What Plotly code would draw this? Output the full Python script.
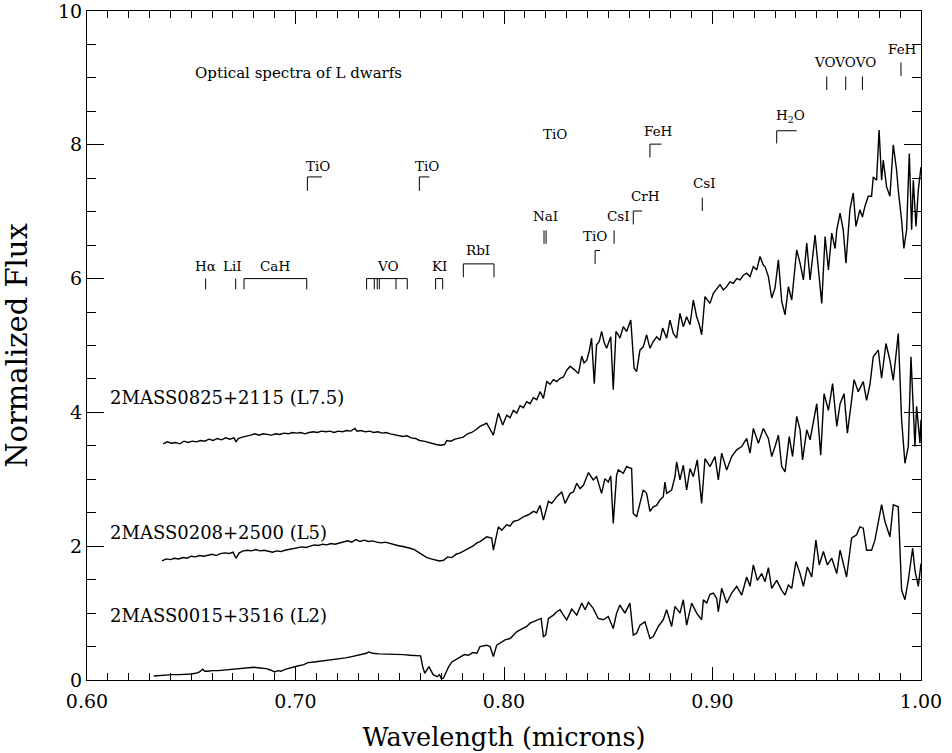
import plotly.graph_objects as go

# ---------------- data: 2MASS0825+2115 (L7.5) ----------------
l75_wave = [
 0.6365,0.6385,0.6405,0.6425,0.6445,0.6465,0.6485,0.6505,0.6525,0.6545,0.6565,0.6585,0.6605,0.6625,0.6645,
 0.6665,0.6685,0.6705,0.6715,0.6725,0.6745,0.6765,0.6785,0.6805,0.6825,0.6845,0.6865,0.6885,0.6905,0.6925,
 0.6945,0.6965,0.6985,0.7005,0.7025,0.7045,0.7065,0.7085,0.7105,0.7125,0.7145,0.7165,0.7185,0.7205,0.7225,
 0.7245,0.7265,0.7285,0.7295,0.7315,0.7335,0.7355,0.7375,0.7395,0.7415,0.7435,0.7455,0.7475,0.7495,0.7515,
 0.7535,0.7555,0.7575,0.7595,0.7615,0.7635,0.7655,0.7675,0.7695,0.7715,0.7725,0.7745,0.7765,0.7785,0.7805,
 0.7825,0.7845,0.7865,0.7885,
 0.7917,0.7949,0.7973,0.7994,0.8013,0.8029,0.8045,0.8061,0.8077,0.8093,0.8109,0.8125,0.8141,0.8157,0.8173,
 0.8189,0.8205,0.8221,0.8237,0.8253,0.8269,0.8285,0.8301,0.8317,0.8337,0.8357,0.8373,0.8384,0.8397,0.8409,
 0.8420,0.8433,0.8444,0.8457,0.8468,0.8480,0.8492,0.8512,0.8524,0.8537,0.8548,0.8556,0.8572,0.8588,0.8608,
 0.8624,0.8636,0.8652,0.8668,0.8684,0.8700,0.8716,0.8732,0.8748,0.8761,0.8780,0.8796,0.8812,0.8828,0.8844,
 0.8860,0.8876,0.8892,0.8908,0.8924,0.8937,0.8948,0.8964,0.8988,0.9004,
 0.9036,0.9052,0.9068,0.9084,0.9100,0.9116,0.9132,0.9148,0.9164,0.9180,0.9196,0.9212,0.9228,0.9244,0.9252,
 0.9268,0.9284,0.9300,0.9316,0.9332,0.9348,0.9364,0.9380,0.9404,0.9420,0.9436,0.9452,0.9468,0.9492,0.9508,
 0.9524,0.9540,0.9556,0.9572,0.9588,0.9596,0.9612,0.9627,0.9640,0.9659,0.9675,0.9688,0.9707,0.9719,0.9731,
 0.9747,0.9763,0.9771,0.9787,0.9799,0.9811,0.9819,0.9835,0.9851,0.9867,0.9883,0.9891,0.9907,0.9918,0.9931,
 0.9944,0.9955,0.9963,0.9976,0.9987,1.0000]
l75_flux = [
 3.53,3.56,3.54,3.55,3.53,3.57,3.55,3.57,3.56,3.58,3.57,3.60,3.58,3.61,3.59,
 3.62,3.60,3.62,3.56,3.61,3.63,3.64,3.66,3.68,3.66,3.68,3.67,3.66,3.68,3.67,
 3.69,3.68,3.70,3.69,3.70,3.68,3.70,3.71,3.70,3.72,3.71,3.72,3.70,3.72,3.71,
 3.73,3.72,3.76,3.72,3.73,3.71,3.72,3.70,3.71,3.69,3.70,3.68,3.67,3.66,3.64,
 3.65,3.62,3.61,3.58,3.57,3.55,3.54,3.52,3.51,3.52,3.58,3.57,3.60,3.62,3.63,
 3.68,3.70,3.74,3.79,
 3.84,3.66,3.99,3.81,3.96,3.92,4.03,3.99,4.10,4.07,4.16,4.13,4.22,4.19,4.31,
 4.21,4.46,4.42,4.49,4.46,4.51,4.53,4.63,4.69,4.64,4.58,4.84,4.74,4.78,4.92,
 5.11,4.43,5.01,5.06,5.21,5.05,4.96,5.13,4.34,5.21,5.16,5.11,5.28,5.21,5.38,
 4.66,4.61,4.93,4.98,5.16,4.96,5.06,5.13,5.08,5.26,5.11,5.38,5.18,5.11,5.48,
 5.28,5.43,5.31,5.68,5.43,5.31,5.16,5.73,5.63,5.78,
 5.91,5.83,5.88,5.95,5.93,6.00,5.98,6.05,6.08,6.03,6.18,6.13,6.33,6.20,6.18,
 6.03,5.71,5.86,6.28,5.66,5.46,5.88,5.68,6.43,6.23,5.98,6.53,5.98,6.65,6.18,
 5.63,6.63,6.13,6.68,6.45,6.73,6.98,6.73,6.23,7.03,7.28,6.78,7.03,6.92,7.08,
 7.23,7.23,7.52,7.47,8.22,7.47,7.77,7.37,7.23,8.00,7.62,7.32,6.87,6.45,6.73,
 7.87,6.73,7.47,6.78,7.32,7.67]

# ---------------- data: 2MASS0208+2500 (L5) ----------------
l5_wave = [
 0.6360,0.6380,0.6400,0.6420,0.6440,0.6460,0.6480,0.6500,0.6520,0.6540,0.6560,0.6580,0.6600,0.6620,0.6640,
 0.6660,0.6680,0.6700,0.6715,0.6730,0.6750,0.6770,0.6790,0.6810,0.6830,0.6850,0.6870,0.6890,0.6910,0.6930,
 0.6950,0.6970,0.6990,0.7010,0.7030,0.7050,0.7070,0.7090,0.7110,0.7130,0.7150,0.7170,0.7190,0.7210,0.7230,
 0.7250,0.7270,0.7290,0.7310,0.7330,0.7350,0.7370,0.7390,0.7410,0.7430,0.7450,0.7470,0.7490,0.7510,0.7530,
 0.7550,0.7570,0.7590,0.7610,0.7630,0.7650,0.7670,0.7690,0.7710,0.7730,0.7750,0.7770,0.7790,0.7810,0.7830,
 0.7850,0.7870,0.7885,
 0.7917,0.7941,0.7949,0.7973,0.7989,0.8013,0.8029,0.8045,0.8069,0.8093,0.8117,0.8141,0.8157,0.8173,0.8189,
 0.8213,0.8229,0.8253,0.8277,0.8293,0.8317,0.8333,0.8349,0.8365,0.8381,0.8405,0.8428,0.8444,0.8468,0.8484,
 0.8500,0.8512,0.8524,0.8540,0.8548,0.8572,0.8588,0.8612,0.8620,0.8636,0.8652,0.8668,0.8684,0.8700,0.8716,
 0.8732,0.8748,0.8764,0.8772,0.8780,0.8804,0.8820,0.8828,0.8844,0.8860,0.8876,0.8892,0.8908,0.8927,0.8948,
 0.8964,0.8988,0.9012,0.9028,0.9044,0.9068,0.9092,0.9116,0.9140,0.9164,0.9180,0.9196,0.9220,0.9244,0.9268,
 0.9284,0.9300,0.9316,0.9332,0.9348,0.9368,0.9384,0.9404,0.9420,0.9432,0.9452,0.9468,0.9484,0.9500,0.9519,
 0.9535,0.9556,0.9576,0.9596,0.9612,0.9631,0.9647,0.9667,0.9679,0.9699,0.9723,0.9739,0.9755,0.9771,0.9795,
 0.9811,0.9832,0.9851,0.9867,0.9891,0.9907,0.9923,0.9939,0.9952,0.9963,0.9971,0.9979,0.9995,1.0000]
l5_flux = [
 1.78,1.81,1.80,1.82,1.81,1.83,1.82,1.85,1.84,1.86,1.85,1.87,1.88,1.86,1.89,
 1.90,1.89,1.91,1.82,1.90,1.93,1.94,1.93,1.95,1.93,1.94,1.92,1.91,1.93,1.92,
 1.94,1.95,1.96,1.97,1.99,1.98,2.00,2.02,2.01,2.03,2.02,2.04,2.03,2.05,2.06,
 2.08,2.06,2.10,2.07,2.09,2.07,2.08,2.06,2.05,2.06,2.04,2.03,2.01,2.00,1.99,
 1.97,1.95,1.91,1.86,1.83,1.81,1.79,1.78,1.79,1.84,1.83,1.88,1.90,1.93,1.97,
 2.00,2.05,2.07,
 2.14,2.12,1.94,2.29,2.24,2.32,2.30,2.37,2.39,2.44,2.47,2.52,2.50,2.61,2.39,
 2.67,2.64,2.74,2.81,2.64,2.79,2.81,2.94,2.86,2.91,3.10,2.99,3.04,2.79,3.01,
 2.96,3.05,2.34,3.06,3.14,3.09,3.19,3.16,2.49,2.44,2.64,2.84,2.79,2.52,2.59,
 2.61,2.69,2.74,2.96,2.79,2.84,3.04,3.26,2.99,3.21,2.84,3.16,3.04,3.29,2.64,
 3.31,3.19,3.34,2.99,3.39,3.14,3.34,3.44,3.49,3.61,3.39,3.76,3.54,3.76,3.61,
 3.34,3.49,3.66,3.19,3.11,3.64,3.34,3.94,3.74,3.29,3.74,3.59,3.89,4.13,3.36,
 4.28,4.03,4.43,3.79,4.13,4.28,3.69,4.18,4.49,4.31,4.46,4.18,4.41,4.83,4.93,
 4.51,5.03,4.78,4.48,5.18,3.89,3.24,3.49,4.83,4.13,3.49,4.09,3.54,3.89]

# ---------------- data: 2MASS0015+3516 (L2) ----------------
l2_wave = [
 0.6320,0.6350,0.6380,0.6410,0.6440,0.6470,0.6500,0.6520,0.6540,0.6555,0.6565,0.6580,0.6600,0.6630,0.6660,
 0.6690,0.6720,0.6750,0.6780,0.6800,0.6830,0.6860,0.6880,0.6900,0.6915,0.6930,0.6950,0.6980,0.7010,0.7040,
 0.7060,0.7090,0.7120,0.7150,0.7180,0.7210,0.7240,0.7270,0.7300,0.7320,0.7340,0.7350,0.7370,0.7400,0.7430,
 0.7460,0.7490,0.7520,0.7550,0.7580,0.7600,0.7610,0.7620,0.7630,0.7640,0.7650,0.7660,0.7680,0.7690,0.7700,
 0.7710,0.7720,0.7735,0.7750,0.7770,0.7790,0.7810,0.7830,0.7850,0.7870,
 0.7885,0.7917,0.7933,0.7949,0.7965,0.8005,0.8029,0.8045,0.8061,0.8077,0.8093,0.8109,0.8125,0.8141,0.8157,
 0.8178,0.8189,0.8200,0.8213,0.8237,0.8253,0.8269,0.8285,0.8301,0.8325,0.8349,0.8373,0.8389,0.8405,0.8428,
 0.8452,0.8476,0.8500,0.8524,0.8540,0.8556,0.8580,0.8604,0.8620,0.8636,0.8652,0.8676,0.8700,0.8716,0.8740,
 0.8764,0.8780,0.8804,0.8820,0.8844,0.8860,0.8876,0.8900,0.8924,0.8948,0.8956,0.8972,0.8988,0.9004,0.9020,
 0.9028,0.9044,0.9068,0.9092,0.9116,0.9140,0.9164,0.9180,0.9196,0.9215,0.9236,0.9252,0.9268,0.9284,0.9308,
 0.9332,0.9348,0.9364,0.9380,0.9400,0.9420,0.9436,0.9455,0.9476,0.9496,0.9512,0.9532,0.9551,0.9572,0.9596,
 0.9612,0.9643,0.9667,0.9691,0.9707,0.9723,0.9739,0.9763,0.9779,0.9795,0.9811,0.9827,0.9851,0.9867,0.9891,
 0.9907,0.9923,0.9939,0.9960,0.9971,0.9987,1.0000]
l2_flux = [
 0.06,0.07,0.07,0.08,0.08,0.08,0.09,0.10,0.12,0.16,0.13,0.13,0.14,0.14,0.15,
 0.16,0.17,0.17,0.18,0.19,0.18,0.17,0.15,0.12,0.14,0.13,0.16,0.19,0.21,0.23,
 0.26,0.27,0.28,0.29,0.30,0.32,0.33,0.35,0.37,0.38,0.40,0.42,0.40,0.39,0.39,
 0.38,0.38,0.38,0.37,0.37,0.36,0.20,0.10,0.15,0.20,0.14,0.08,0.05,0.08,0.02,
 0.03,0.10,0.20,0.27,0.31,0.35,0.38,0.37,0.41,0.40,
 0.50,0.52,0.50,0.35,0.52,0.60,0.62,0.67,0.72,0.75,0.77,0.80,0.85,0.87,0.90,
 0.92,0.65,0.67,0.92,0.97,1.02,1.05,0.97,0.90,1.06,0.97,1.15,1.05,1.16,1.07,
 0.92,0.90,0.95,0.77,1.00,1.12,1.00,1.15,0.67,0.70,0.82,0.87,0.62,0.65,0.80,
 0.90,1.05,0.80,1.10,1.00,1.20,0.82,1.15,1.00,0.90,1.20,1.15,1.28,1.30,1.22,
 1.02,1.37,1.15,1.30,1.40,1.27,1.54,1.40,1.72,1.49,1.59,1.47,1.68,1.37,1.49,
 1.34,1.27,1.42,1.37,1.77,1.59,1.40,1.69,1.54,2.09,1.72,1.92,1.72,1.82,1.59,
 1.94,1.54,2.12,2.17,2.29,2.27,1.94,1.94,2.09,2.34,2.62,2.37,2.14,2.62,2.59,
 1.34,1.20,1.49,1.97,1.64,1.40,1.74]

SPECTRA = [
    ("2MASS0825+2115 (L7.5)", l75_wave, l75_flux, 4.22),
    ("2MASS0208+2500 (L5)", l5_wave, l5_flux, 2.21),
    ("2MASS0015+3516 (L2)", l2_wave, l2_flux, 0.97),
]

# feature identifications: label, label wavelength, label flux, mark kind, mark wavelengths, mark top, mark bottom
FEATURES = [
    ("H\u03b1", 0.6566, 6.19, "tick", [0.6569], 6.00, 5.84),
    ("LiI", 0.6700, 6.19, "tick", [0.6713], 6.00, 5.84),
    ("CaH", 0.6902, 6.19, "bracket", [0.6753, 0.7054], 6.00, 5.84),
    ("VO", 0.7445, 6.19, "bracket", [0.7341, 0.7378, 0.7392, 0.7402, 0.7482, 0.7536], 6.00, 5.84),
    ("KI", 0.7690, 6.19, "bracket", [0.7672, 0.7706], 6.00, 5.84),
    ("RbI", 0.7877, 6.43, "bracket", [0.7805, 0.7952], 6.22, 6.02),
    ("TiO", 0.7108, 7.68, "corner", [0.7057, 0.7127], 7.52, 7.31),
    ("TiO", 0.7629, 7.68, "corner", [0.7594, 0.7642], 7.52, 7.31),
    ("TiO", 0.8245, 8.16, "none", [], 0, 0),
    ("NaI", 0.8197, 6.93, "tick", [0.8192, 0.8202], 6.72, 6.52),
    ("TiO", 0.8436, 6.63, "corner", [0.8437, 0.8461], 6.42, 6.22),
    ("CsI", 0.8548, 6.93, "tick", [0.8528], 6.72, 6.52),
    ("CrH", 0.8681, 7.23, "corner", [0.8620, 0.8663], 7.01, 6.81),
    ("FeH", 0.8740, 8.20, "corner", [0.8700, 0.8756], 8.01, 7.81),
    ("CsI", 0.8964, 7.43, "tick", [0.8951], 7.21, 7.01),
    ("H<sub>2</sub>O", 0.9375, 8.43, "corner", [0.9308, 0.9404], 8.21, 8.02),
    ("VOVOVO", 0.9635, 9.24, "tick", [0.9548, 0.9639, 0.9719], 9.02, 8.82),
    ("FeH", 0.9912, 9.43, "tick", [0.9904], 9.23, 9.03),
]

TITLE_TEXT = "Optical spectra of L dwarfs"
TITLE_POS = (0.6508, 9.07)
LABEL_X = 0.6100

FONT = "DejaVu Serif"

fig = go.Figure()

for name, w, f, ly in SPECTRA:
    fig.add_trace(go.Scatter(x=w, y=f, mode="lines", name=name,
                             line=dict(color="black", width=1.4),
                             showlegend=False, hoverinfo="skip"))
    fig.add_annotation(x=LABEL_X, y=ly, xref="x", yref="y", text=name,
                       showarrow=False, xanchor="left", yanchor="middle",
                       font=dict(family=FONT, size=18, color="black"))

# feature marks
mx, my = [], []
for label, lx, lyy, kind, waves, top, bot in FEATURES:
    if kind == "tick":
        for wv in waves:
            mx += [wv, wv, None]
            my += [bot, top, None]
    elif kind == "bracket":
        mx += [waves[0], waves[-1], None]
        my += [top, top, None]
        for wv in waves:
            mx += [wv, wv, None]
            my += [top, bot, None]
    elif kind == "corner":
        mx += [waves[0], waves[0], waves[1], None]
        my += [bot, top, top, None]
    fig.add_annotation(x=lx, y=lyy, xref="x", yref="y", text=label,
                       showarrow=False, xanchor="center", yanchor="middle",
                       font=dict(family=FONT, size=13.5, color="black"))

fig.add_trace(go.Scatter(x=mx, y=my, mode="lines", line=dict(color="black", width=1),
                         showlegend=False, hoverinfo="skip", connectgaps=False))

fig.add_annotation(x=TITLE_POS[0], y=TITLE_POS[1], xref="x", yref="y", text=TITLE_TEXT,
                   showarrow=False, xanchor="left", yanchor="middle",
                   font=dict(family=FONT, size=15, color="black"))

fig.update_layout(
    width=952, height=753,
    margin=dict(l=87, r=31, t=11, b=73, autoexpand=False),
    paper_bgcolor="white", plot_bgcolor="white",
    font=dict(family=FONT, color="black"),
    hovermode=False,
    xaxis=dict(range=[0.6, 1.0], tick0=0.6, dtick=0.1, tickformat=".2f",
               ticks="inside", ticklen=13, tickwidth=1, tickcolor="black",
               minor=dict(dtick=0.01, tick0=0.6, ticks="inside", ticklen=7, tickcolor="black", showgrid=False),
               showline=True, linecolor="black", linewidth=1, mirror="ticks",
               showgrid=False, zeroline=False, automargin=False, ticklabeloverflow="allow",
               ticklabelstandoff=4,
               tickfont=dict(family=FONT, size=19),
               title=dict(text="Wavelength (microns)", font=dict(family=FONT, size=25.5), standoff=17)),
    yaxis=dict(range=[0, 10], tick0=0, dtick=2,
               ticks="inside", ticklen=17, tickwidth=1, tickcolor="black",
               minor=dict(dtick=0.5, tick0=0, ticks="inside", ticklen=9, tickcolor="black", showgrid=False),
               showline=True, linecolor="black", linewidth=1, mirror="ticks",
               showgrid=False, zeroline=False, automargin=False, ticklabeloverflow="allow",
               tickfont=dict(family=FONT, size=19),
               title=dict(text="Normalized Flux", font=dict(family=FONT, size=29), standoff=34)),
)

fig.write_html("out.html", config={"displayModeBar": False},
               post_script="document.body.style.margin='0';")
